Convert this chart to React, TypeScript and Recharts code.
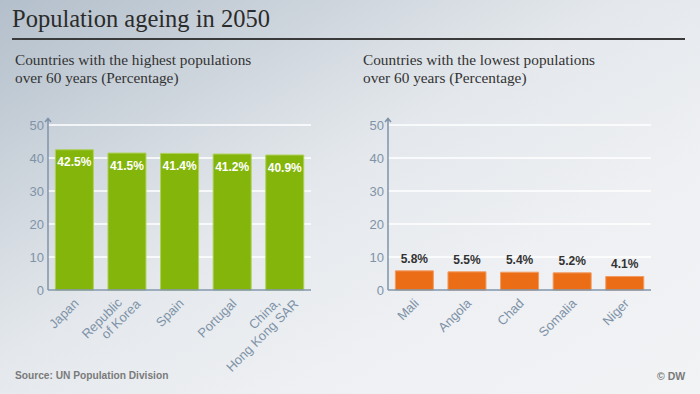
import { BarChart, Bar, XAxis, YAxis, CartesianGrid, LabelList } from "recharts";

// Population share over 60 years in 2050 (percent)
const highCountries = ["Japan", "Republic\nof Korea", "Spain", "Portugal", "China,\nHong Kong SAR"];
const highValues = [42.5, 41.5, 41.4, 41.2, 40.9];

const lowCountries = ["Mali", "Angola", "Chad", "Somalia", "Niger"];
const lowValues = [5.8, 5.5, 5.4, 5.2, 4.1];

const yTicks = [0, 10, 20, 30, 40, 50];

const axisColor = "#7f93a8";
const sans = "'Liberation Sans', Arial, sans-serif";
const serif = "'Liberation Serif', 'Times New Roman', serif";

const XTick = ({ x, y, payload }: any) => {
  const lines = String(payload.value).split("\n");
  const n = lines.length;
  return (
    <g transform={`translate(${x + 2},${y + 3})`}>
      <text transform="rotate(-45)" textAnchor="end" fill={axisColor} fontSize={13} fontFamily={sans}>
        {lines.map((l, i) => (
          <tspan key={i} x={(i - (n - 1) / 2) * 12} y={(i - (n - 1) / 2) * 14} dy="0.35em">
            {l}
          </tspan>
        ))}
      </text>
    </g>
  );
};

const AxisArrow = ({ viewBox }: any) => {
  if (!viewBox) return null;
  const x = viewBox.x + viewBox.width;
  const y = viewBox.y;
  return (
    <path
      d={`M${x},${y} V${y - 6} M${x - 3},${y - 3} L${x},${y - 6.5} L${x + 3},${y - 3}`}
      stroke={axisColor}
      strokeWidth={1.5}
      fill="none"
    />
  );
};

type PanelProps = {
  countries: string[];
  values: number[];
  color: string;
  edge: string;
  inside: boolean;
};

const Panel = ({ countries, values, color, edge, inside }: PanelProps) => {
  const data = countries.map((name, i) => ({ name, value: values[i] }));
  return (
    <BarChart
      width={350}
      height={280}
      data={data}
      margin={{ top: 25, right: 39, left: 0, bottom: 0 }}
      barCategoryGap="14%"
    >
      <CartesianGrid vertical={false} stroke="#ffffff" strokeWidth={1.5} />
      <XAxis
        dataKey="name"
        height={90}
        interval={0}
        tickLine={false}
        axisLine={{ stroke: axisColor, strokeWidth: 1.5 }}
        tick={<XTick />}
      />
      <YAxis
        width={48}
        domain={[0, 50]}
        ticks={yTicks}
        tickLine={false}
        tickSize={0}
        tickMargin={4}
        axisLine={{ stroke: axisColor, strokeWidth: 1.5 }}
        tick={{ fill: axisColor, fontSize: 13, fontFamily: sans }}
        label={<AxisArrow />}
      />
      <Bar dataKey="value" fill={color} stroke={edge} strokeWidth={1} isAnimationActive={false}>
        <LabelList
          dataKey="value"
          position={inside ? "insideTop" : "top"}
          offset={8}
          fill={inside ? "#ffffff" : "#333333"}
          fontSize={12}
          fontWeight="bold"
          fontFamily={sans}
          formatter={(v: any) => `${Number(v).toFixed(1)}%`}
        />
      </Bar>
    </BarChart>
  );
};

export default function App() {
  return (
    <div
      style={{
        position: "absolute",
        left: 0,
        top: 0,
        width: 700,
        height: 394,
        overflow: "hidden",
        background:
          "linear-gradient(150deg, #b3bfcb 0%, #cbd3db 22%, #e4e8ec 45%, #eef0f3 70%, #f1f3f5 100%)",
      }}
    >
      <div
        style={{
          position: "absolute",
          left: 12,
          top: 5,
          fontFamily: serif,
          fontSize: 24.5,
          color: "#2b2b2b",
          whiteSpace: "nowrap",
        }}
      >
        Population ageing in 2050
      </div>
      <div style={{ position: "absolute", left: 12, top: 38, width: 673, height: 2, background: "#3a3a3a" }} />
      <div
        style={{
          position: "absolute",
          left: 15,
          top: 51,
          fontFamily: serif,
          fontSize: 15.3,
          lineHeight: "18px",
          color: "#333",
        }}
      >
        Countries with the highest populations
        <br />
        over 60 years (Percentage)
      </div>
      <div
        style={{
          position: "absolute",
          left: 363,
          top: 51,
          fontFamily: serif,
          fontSize: 15.3,
          lineHeight: "18px",
          color: "#333",
        }}
      >
        Countries with the lowest populations
        <br />
        over 60 years (Percentage)
      </div>

      <div style={{ position: "absolute", left: 0, top: 100 }}>
        <Panel countries={highCountries} values={highValues} color="#84b50b" edge="#aed15a" inside />
      </div>
      <div style={{ position: "absolute", left: 340, top: 100 }}>
        <Panel countries={lowCountries} values={lowValues} color="#eb6d15" edge="#f29c62" inside={false} />
      </div>

      <div
        style={{
          position: "absolute",
          left: 15,
          top: 370,
          fontFamily: sans,
          fontSize: 10.2,
          fontWeight: "bold",
          color: "#7a7a7a",
        }}
      >
        Source: UN Population Division
      </div>
      <div
        style={{
          position: "absolute",
          left: 657,
          top: 370,
          fontFamily: sans,
          fontSize: 10.5,
          fontWeight: "bold",
          color: "#7a7a7a",
        }}
      >
        © DW
      </div>
    </div>
  );
}
